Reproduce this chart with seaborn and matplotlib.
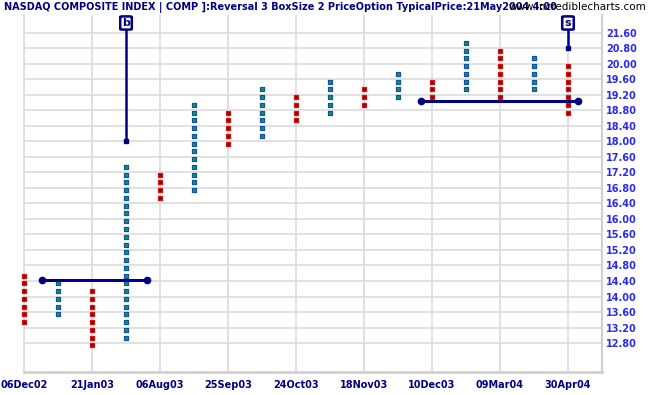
import matplotlib
matplotlib.use("Agg")
import matplotlib.pyplot as plt
import numpy as np
import pandas as pd
import seaborn as sns
from matplotlib.patches import FancyBboxPatch

# point & figure columns: kind, lowest box, highest box (box index, 0 = 12.80 row)
col_kind = ["X", "O", "X", "O", "X", "O", "X", "O", "X", "O", "X", "O", "X", "O", "X", "O", "X"]
col_low = [2, 3, -1, 0, 18, 19, 25, 26, 28, 29, 30, 31, 31, 32, 31, 32, 29]
col_high = [8, 7, 6, 22, 21, 30, 29, 32, 31, 33, 32, 34, 33, 38, 37, 36, 35]

x_labels = ["06Dec02", "21Jan03", "06Aug03", "25Sep03", "24Oct03",
            "18Nov03", "10Dec03", "09Mar04", "30Apr04"]
y_labels = ["12.80", "13.20", "13.60", "14.00", "14.40", "14.80", "15.20",
            "15.60", "16.00", "16.40", "16.80", "17.20", "17.60", "18.00",
            "18.40", "18.80", "19.20", "19.60", "20.00", "20.80", "21.60"]

# signals: column, box level the stem reaches, letter
signal_col = [3, 16]
signal_level = [26.1, 38.0]
signal_text = ["b", "s"]

# support / resistance lines: start col, end col, level
line_x0 = [0.53, 11.68]
line_x1 = [3.62, 16.28]
line_level = [8.1, 31.25]

rows = []
for i, (k, lo, hi) in enumerate(zip(col_kind, col_low, col_high)):
    for b in range(lo, hi + 1):
        rows.append({"col": i, "box": b + 0.7, "kind": k})
df = pd.DataFrame(rows)

sns.set_style("white")
plt.rcParams["font.family"] = ["DejaVu Sans"]

fig = plt.figure(figsize=(6.51, 3.95), dpi=100)
ax = fig.add_axes([24 / 651, 1 - 372 / 395, 578 / 651, 357 / 395])

ox = df[df["kind"] == "O"]
xx = df[df["kind"] == "X"]
sns.scatterplot(data=ox, x="col", y="box", marker="s", s=9, color="#10a030",
                edgecolor="#1050b0", linewidth=0.9, ax=ax, clip_on=False, zorder=3)
sns.scatterplot(data=xx, x="col", y="box", marker="s", s=9, color="#ff2020",
                edgecolor="#e01010", linewidth=0.9, ax=ax, clip_on=False, zorder=3)
sns.scatterplot(data=xx, x="col", y="box", marker="x", s=3, color="#400000",
                linewidth=0.7, ax=ax, clip_on=False, zorder=4)

navy = "#000080"
for x0, x1, lv in zip(line_x0, line_x1, line_level):
    ax.plot([x0, x1], [lv, lv], color=navy, lw=2.2, marker="o", ms=4.5, zorder=5)

for c, lv, t in zip(signal_col, signal_level, signal_text):
    ax.plot([c, c], [lv, 40.4], color=navy, lw=1.8, zorder=5, clip_on=False)
    ax.plot([c], [lv], marker="s", ms=2.5, color=navy, zorder=5)
    box = FancyBboxPatch((c - 0.17, 40.4), 0.34, 1.7,
                         boxstyle="round,pad=0,rounding_size=0.08",
                         fc="white", ec=navy, lw=1.8, zorder=6, clip_on=False)
    ax.add_patch(box)
    ax.text(c, 41.2, t, ha="center", va="center", color=navy,
            fontsize=8, fontweight="bold", zorder=7)

ax.set_xlim(0, 17)
ax.set_ylim(-3.73, 42.28)
ax.set_xticks(np.arange(0, 17, 2))
ax.set_xticklabels(x_labels)
ax.set_yticks(np.arange(0, 41, 2))
ax.set_yticklabels(y_labels)
ax.yaxis.tick_right()
ax.set_xlabel("")
ax.set_ylabel("")
ax.grid(True, color="#dedede", lw=1.3)
ax.set_axisbelow(True)
for lab in ax.get_xticklabels():
    lab.set_color(navy)
    lab.set_fontweight("bold")
    lab.set_fontsize(7)
for lab in ax.get_yticklabels():
    lab.set_color("#2a2af0")
    lab.set_fontweight("bold")
    lab.set_fontsize(7)
ax.tick_params(axis="x", length=4, color="#d0d0d0", pad=2)
ax.tick_params(axis="y", length=0, pad=3)
ax.spines["top"].set_visible(False)
ax.spines["left"].set_color("#dedede")
ax.spines["right"].set_color("#d0d0d0")
ax.spines["bottom"].set_color("#d0d0d0")
ax.spines["bottom"].set_linewidth(2)
ax.spines["right"].set_linewidth(1.5)
ax.spines["left"].set_linewidth(1.3)

fig.text(4 / 651, 1 - 2 / 395,
         "NASDAQ COMPOSITE INDEX | COMP ]:Reversal 3 BoxSize 2 PriceOption TypicalPrice:21May2004 4:00",
         ha="left", va="top", color=navy, fontsize=7, fontweight="bold")
fig.text(1 - 5 / 651, 1 - 2 / 395, "www.incrediblecharts.com",
         ha="right", va="top", color="black", fontsize=7.5)

fig.savefig("out.png", dpi=100)
